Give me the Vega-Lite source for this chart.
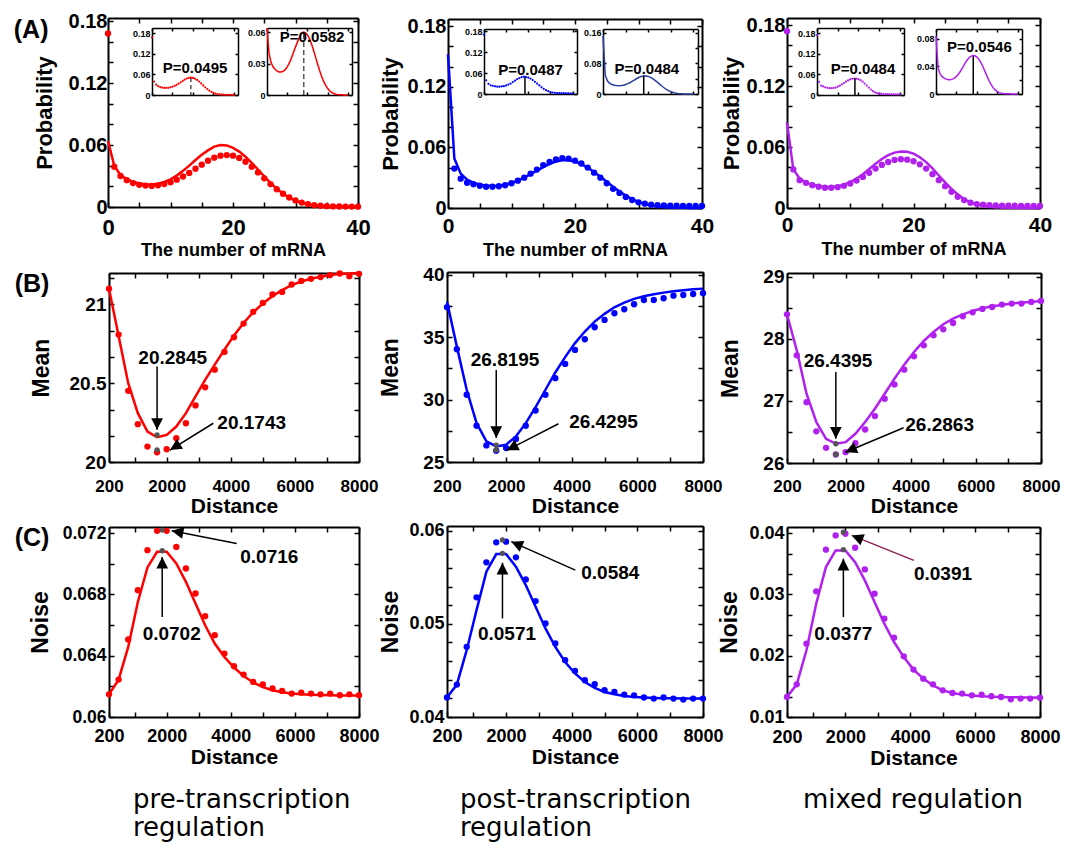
{
"$schema":"https://vega.github.io/schema/vega-lite/v6.json",
"width":1065,"height":844,"autosize":{"type":"none"},"padding":0,"background":"white",
"datasets":{
"dist":[
{"reg":"pre","n":0,"p":0.168,"t":0.064},{"reg":"pre","n":1,"p":0.039,"t":0.040},{"reg":"pre","n":2,"p":0.030,"t":0.031},{"reg":"pre","n":3,"p":0.026,"t":0.027},{"reg":"pre","n":4,"p":0.0232,"t":0.0245},{"reg":"pre","n":5,"p":0.0215,"t":0.0228},{"reg":"pre","n":6,"p":0.0207,"t":0.022},{"reg":"pre","n":7,"p":0.0204,"t":0.0219},{"reg":"pre","n":8,"p":0.021,"t":0.0226},{"reg":"pre","n":9,"p":0.0222,"t":0.0242},{"reg":"pre","n":10,"p":0.024,"t":0.0268},{"reg":"pre","n":11,"p":0.0265,"t":0.0304},{"reg":"pre","n":12,"p":0.0295,"t":0.035},{"reg":"pre","n":13,"p":0.033,"t":0.0401},{"reg":"pre","n":14,"p":0.037,"t":0.0455},{"reg":"pre","n":15,"p":0.041,"t":0.0505},{"reg":"pre","n":16,"p":0.0448,"t":0.0548},{"reg":"pre","n":17,"p":0.0478,"t":0.0585},{"reg":"pre","n":18,"p":0.0497,"t":0.0601},{"reg":"pre","n":19,"p":0.0503,"t":0.0596},{"reg":"pre","n":20,"p":0.0497,"t":0.0573},{"reg":"pre","n":21,"p":0.0475,"t":0.0536},{"reg":"pre","n":22,"p":0.0438,"t":0.0487},{"reg":"pre","n":23,"p":0.039,"t":0.0428},{"reg":"pre","n":24,"p":0.0335,"t":0.0362},{"reg":"pre","n":25,"p":0.0278,"t":0.0296},{"reg":"pre","n":26,"p":0.0222,"t":0.0234},{"reg":"pre","n":27,"p":0.0172,"t":0.0177},{"reg":"pre","n":28,"p":0.0128,"t":0.013},{"reg":"pre","n":29,"p":0.0092,"t":0.0091},{"reg":"pre","n":30,"p":0.0064,"t":0.0061},{"reg":"pre","n":31,"p":0.0043,"t":0.0039},{"reg":"pre","n":32,"p":0.0028,"t":0.0024},{"reg":"pre","n":33,"p":0.0018,"t":0.0014},{"reg":"pre","n":34,"p":0.0012,"t":0.0008},{"reg":"pre","n":35,"p":0.0008,"t":0.0005},{"reg":"pre","n":36,"p":0.0006,"t":0.0003},{"reg":"pre","n":37,"p":0.0005,"t":0.0002},{"reg":"pre","n":38,"p":0.0004,"t":0.0001},{"reg":"pre","n":39,"p":0.0004,"t":0.0001},{"reg":"pre","n":40,"p":0.0003,"t":0.0},
{"reg":"post","n":0,"p":0.17,"t":0.152},{"reg":"post","n":1,"p":0.039,"t":0.049},{"reg":"post","n":2,"p":0.029,"t":0.034},{"reg":"post","n":3,"p":0.025,"t":0.028},{"reg":"post","n":4,"p":0.0235,"t":0.025},{"reg":"post","n":5,"p":0.022,"t":0.023},{"reg":"post","n":6,"p":0.021,"t":0.0222},{"reg":"post","n":7,"p":0.021,"t":0.0218},{"reg":"post","n":8,"p":0.0215,"t":0.022},{"reg":"post","n":9,"p":0.0225,"t":0.023},{"reg":"post","n":10,"p":0.0245,"t":0.0248},{"reg":"post","n":11,"p":0.027,"t":0.027},{"reg":"post","n":12,"p":0.030,"t":0.030},{"reg":"post","n":13,"p":0.034,"t":0.0335},{"reg":"post","n":14,"p":0.038,"t":0.037},{"reg":"post","n":15,"p":0.0425,"t":0.0405},{"reg":"post","n":16,"p":0.0455,"t":0.0437},{"reg":"post","n":17,"p":0.048,"t":0.046},{"reg":"post","n":18,"p":0.0494,"t":0.0472},{"reg":"post","n":19,"p":0.0488,"t":0.0472},{"reg":"post","n":20,"p":0.0468,"t":0.046},{"reg":"post","n":21,"p":0.044,"t":0.0435},{"reg":"post","n":22,"p":0.040,"t":0.040},{"reg":"post","n":23,"p":0.035,"t":0.0357},{"reg":"post","n":24,"p":0.030,"t":0.031},{"reg":"post","n":25,"p":0.0245,"t":0.026},{"reg":"post","n":26,"p":0.019,"t":0.021},{"reg":"post","n":27,"p":0.0149,"t":0.0163},{"reg":"post","n":28,"p":0.011,"t":0.0122},{"reg":"post","n":29,"p":0.0079,"t":0.0088},{"reg":"post","n":30,"p":0.0056,"t":0.006},{"reg":"post","n":31,"p":0.0043,"t":0.0039},{"reg":"post","n":32,"p":0.0033,"t":0.0025},{"reg":"post","n":33,"p":0.0028,"t":0.0015},{"reg":"post","n":34,"p":0.0025,"t":0.0009},{"reg":"post","n":35,"p":0.0023,"t":0.0005},{"reg":"post","n":36,"p":0.0022,"t":0.0003},{"reg":"post","n":37,"p":0.0021,"t":0.0002},{"reg":"post","n":38,"p":0.002,"t":0.0001},{"reg":"post","n":39,"p":0.002,"t":0.0001},{"reg":"post","n":40,"p":0.002,"t":0.0},
{"reg":"mixed","n":0,"p":0.174,"t":0.084},{"reg":"mixed","n":1,"p":0.038,"t":0.038},{"reg":"mixed","n":2,"p":0.0274,"t":0.029},{"reg":"mixed","n":3,"p":0.0248,"t":0.025},{"reg":"mixed","n":4,"p":0.0225,"t":0.023},{"reg":"mixed","n":5,"p":0.0209,"t":0.0215},{"reg":"mixed","n":6,"p":0.0199,"t":0.0207},{"reg":"mixed","n":7,"p":0.0199,"t":0.0207},{"reg":"mixed","n":8,"p":0.0205,"t":0.0215},{"reg":"mixed","n":9,"p":0.0218,"t":0.023},{"reg":"mixed","n":10,"p":0.0241,"t":0.0255},{"reg":"mixed","n":11,"p":0.027,"t":0.029},{"reg":"mixed","n":12,"p":0.0306,"t":0.0333},{"reg":"mixed","n":13,"p":0.0346,"t":0.0383},{"reg":"mixed","n":14,"p":0.0388,"t":0.0435},{"reg":"mixed","n":15,"p":0.0424,"t":0.0482},{"reg":"mixed","n":16,"p":0.0453,"t":0.052},{"reg":"mixed","n":17,"p":0.0473,"t":0.0545},{"reg":"mixed","n":18,"p":0.048,"t":0.0555},{"reg":"mixed","n":19,"p":0.0476,"t":0.0553},{"reg":"mixed","n":20,"p":0.046,"t":0.0535},{"reg":"mixed","n":21,"p":0.043,"t":0.05},{"reg":"mixed","n":22,"p":0.0388,"t":0.0452},{"reg":"mixed","n":23,"p":0.0333,"t":0.039},{"reg":"mixed","n":24,"p":0.0274,"t":0.032},{"reg":"mixed","n":25,"p":0.0215,"t":0.0252},{"reg":"mixed","n":26,"p":0.016,"t":0.0188},{"reg":"mixed","n":27,"p":0.0111,"t":0.0133},{"reg":"mixed","n":28,"p":0.0078,"t":0.0088},{"reg":"mixed","n":29,"p":0.0052,"t":0.0055},{"reg":"mixed","n":30,"p":0.0039,"t":0.0033},{"reg":"mixed","n":31,"p":0.0033,"t":0.002},{"reg":"mixed","n":32,"p":0.0028,"t":0.0012},{"reg":"mixed","n":33,"p":0.0026,"t":0.0007},{"reg":"mixed","n":34,"p":0.0024,"t":0.0004},{"reg":"mixed","n":35,"p":0.0023,"t":0.0003},{"reg":"mixed","n":36,"p":0.0022,"t":0.0002},{"reg":"mixed","n":37,"p":0.0021,"t":0.0001},{"reg":"mixed","n":38,"p":0.002,"t":0.0001},{"reg":"mixed","n":39,"p":0.002,"t":0.0},{"reg":"mixed","n":40,"p":0.002,"t":0.0}
],
"curve":[
{"reg":"pre","d":200,"ms":21.10,"mt":21.10,"ns":0.06148,"nt":0.06148},{"reg":"pre","d":500,"ms":20.809,"mt":20.80,"ns":0.06244,"nt":0.06244},{"reg":"pre","d":800,"ms":20.452,"mt":20.50,"ns":0.06506,"nt":0.06457},{"reg":"pre","d":1100,"ms":20.24,"mt":20.31,"ns":0.06828,"nt":0.06751},{"reg":"pre","d":1400,"ms":20.098,"mt":20.193,"ns":0.07089,"nt":0.06976},{"reg":"pre","d":1700,"ms":20.062,"mt":20.157,"ns":0.07215,"nt":0.07078},{"reg":"pre","d":2000,"ms":20.081,"mt":20.172,"ns":0.07215,"nt":0.07078},{"reg":"pre","d":2300,"ms":20.151,"mt":20.225,"ns":0.0711,"nt":0.07002},{"reg":"pre","d":2600,"ms":20.246,"mt":20.31,"ns":0.06969,"nt":0.06882},{"reg":"pre","d":2900,"ms":20.359,"mt":20.416,"ns":0.06806,"nt":0.06741},{"reg":"pre","d":3200,"ms":20.474,"mt":20.522,"ns":0.06658,"nt":0.06599},{"reg":"pre","d":3500,"ms":20.586,"mt":20.618,"ns":0.06534,"nt":0.06479},{"reg":"pre","d":3800,"ms":20.699,"mt":20.713,"ns":0.06414,"nt":0.06392},{"reg":"pre","d":4100,"ms":20.792,"mt":20.803,"ns":0.06331,"nt":0.06323},{"reg":"pre","d":4400,"ms":20.879,"mt":20.883,"ns":0.06277,"nt":0.06268},{"reg":"pre","d":4700,"ms":20.953,"mt":20.951,"ns":0.06229,"nt":0.06225},{"reg":"pre","d":5000,"ms":21.01,"mt":21.006,"ns":0.06212,"nt":0.06196},{"reg":"pre","d":5300,"ms":21.064,"mt":21.053,"ns":0.06186,"nt":0.06174},{"reg":"pre","d":5600,"ms":21.08,"mt":21.091,"ns":0.0617,"nt":0.06161},{"reg":"pre","d":5900,"ms":21.127,"mt":21.123,"ns":0.06153,"nt":0.06153},{"reg":"pre","d":6200,"ms":21.15,"mt":21.146,"ns":0.06159,"nt":0.06148},{"reg":"pre","d":6500,"ms":21.163,"mt":21.163,"ns":0.06153,"nt":0.06146},{"reg":"pre","d":6800,"ms":21.174,"mt":21.176,"ns":0.06148,"nt":0.06144},{"reg":"pre","d":7100,"ms":21.187,"mt":21.187,"ns":0.06153,"nt":0.06142},{"reg":"pre","d":7400,"ms":21.197,"mt":21.193,"ns":0.06142,"nt":0.06141},{"reg":"pre","d":7700,"ms":21.18,"mt":21.197,"ns":0.06148,"nt":0.0614},{"reg":"pre","d":8000,"ms":21.195,"mt":21.2,"ns":0.06142,"nt":0.0614},
{"reg":"post","d":200,"ms":37.38,"mt":37.83,"ns":0.04209,"nt":0.04209},{"reg":"post","d":500,"ms":34.02,"mt":34.23,"ns":0.04348,"nt":0.04348},{"reg":"post","d":800,"ms":30.38,"mt":30.78,"ns":0.04753,"nt":0.04717},{"reg":"post","d":1100,"ms":27.9,"mt":28.11,"ns":0.05284,"nt":0.05147},{"reg":"post","d":1400,"ms":26.33,"mt":26.65,"ns":0.0566,"nt":0.05559},{"reg":"post","d":1700,"ms":25.9,"mt":26.25,"ns":0.05875,"nt":0.05749},{"reg":"post","d":2000,"ms":26.12,"mt":26.38,"ns":0.05882,"nt":0.05749},{"reg":"post","d":2300,"ms":26.84,"mt":27.05,"ns":0.05714,"nt":0.05613},{"reg":"post","d":2600,"ms":27.9,"mt":28.11,"ns":0.05477,"nt":0.05416},{"reg":"post","d":2900,"ms":29.12,"mt":29.39,"ns":0.05244,"nt":0.05183},{"reg":"post","d":3200,"ms":30.38,"mt":30.78,"ns":0.05004,"nt":0.04951},{"reg":"post","d":3500,"ms":31.71,"mt":32.16,"ns":0.04789,"nt":0.04753},{"reg":"post","d":3800,"ms":32.85,"mt":33.39,"ns":0.0461,"nt":0.04591},{"reg":"post","d":4100,"ms":33.97,"mt":34.51,"ns":0.04495,"nt":0.04467},{"reg":"post","d":4400,"ms":34.82,"mt":35.44,"ns":0.04395,"nt":0.04376},{"reg":"post","d":4700,"ms":35.78,"mt":36.23,"ns":0.04352,"nt":0.04312},{"reg":"post","d":5000,"ms":36.37,"mt":36.85,"ns":0.04287,"nt":0.04269},{"reg":"post","d":5300,"ms":36.9,"mt":37.38,"ns":0.04269,"nt":0.04244},{"reg":"post","d":5600,"ms":37.22,"mt":37.75,"ns":0.04241,"nt":0.04226},{"reg":"post","d":5900,"ms":37.62,"mt":38.05,"ns":0.04233,"nt":0.04215},{"reg":"post","d":6200,"ms":37.96,"mt":38.26,"ns":0.04209,"nt":0.04209},{"reg":"post","d":6500,"ms":37.96,"mt":38.42,"ns":0.04198,"nt":0.04205},{"reg":"post","d":6800,"ms":38.1,"mt":38.55,"ns":0.04209,"nt":0.04202},{"reg":"post","d":7100,"ms":38.31,"mt":38.66,"ns":0.04198,"nt":0.042},{"reg":"post","d":7400,"ms":38.36,"mt":38.74,"ns":0.04187,"nt":0.04198},{"reg":"post","d":7700,"ms":38.44,"mt":38.82,"ns":0.04198,"nt":0.04198},{"reg":"post","d":8000,"ms":38.5,"mt":38.87,"ns":0.04198,"nt":0.04198},
{"reg":"mixed","d":200,"ms":28.395,"mt":28.395,"ns":0.01326,"nt":0.01326},{"reg":"mixed","d":500,"ms":27.734,"mt":27.815,"ns":0.01533,"nt":0.01533},{"reg":"mixed","d":800,"ms":26.98,"mt":27.116,"ns":0.02197,"nt":0.02088},{"reg":"mixed","d":1100,"ms":26.51,"mt":26.66,"ns":0.0305,"nt":0.02849},{"reg":"mixed","d":1400,"ms":26.245,"mt":26.39,"ns":0.0373,"nt":0.03446},{"reg":"mixed","d":1700,"ms":26.137,"mt":26.31,"ns":0.03963,"nt":0.03718},{"reg":"mixed","d":2000,"ms":26.175,"mt":26.336,"ns":0.0399,"nt":0.03718},{"reg":"mixed","d":2300,"ms":26.32,"mt":26.47,"ns":0.03762,"nt":0.03527},{"reg":"mixed","d":2600,"ms":26.54,"mt":26.66,"ns":0.03408,"nt":0.03229},{"reg":"mixed","d":2900,"ms":26.755,"mt":26.874,"ns":0.03012,"nt":0.02875},{"reg":"mixed","d":3200,"ms":27.035,"mt":27.116,"ns":0.02604,"nt":0.02523},{"reg":"mixed","d":3500,"ms":27.266,"mt":27.358,"ns":0.02295,"nt":0.02223},{"reg":"mixed","d":3800,"ms":27.503,"mt":27.584,"ns":0.0199,"nt":0.01978},{"reg":"mixed","d":4100,"ms":27.718,"mt":27.787,"ns":0.01773,"nt":0.01773},{"reg":"mixed","d":4400,"ms":27.895,"mt":27.965,"ns":0.01626,"nt":0.01626},{"reg":"mixed","d":4700,"ms":28.056,"mt":28.11,"ns":0.01533,"nt":0.01517},{"reg":"mixed","d":5000,"ms":28.153,"mt":28.234,"ns":0.01435,"nt":0.01435},{"reg":"mixed","d":5300,"ms":28.255,"mt":28.325,"ns":0.01391,"nt":0.01391},{"reg":"mixed","d":5600,"ms":28.363,"mt":28.395,"ns":0.01382,"nt":0.01365},{"reg":"mixed","d":5900,"ms":28.427,"mt":28.449,"ns":0.01354,"nt":0.01349},{"reg":"mixed","d":6200,"ms":28.481,"mt":28.492,"ns":0.01365,"nt":0.01338},{"reg":"mixed","d":6500,"ms":28.513,"mt":28.524,"ns":0.01338,"nt":0.01332},{"reg":"mixed","d":6800,"ms":28.551,"mt":28.545,"ns":0.01326,"nt":0.01326},{"reg":"mixed","d":7100,"ms":28.568,"mt":28.568,"ns":0.01289,"nt":0.01322},{"reg":"mixed","d":7400,"ms":28.568,"mt":28.584,"ns":0.013,"nt":0.0132},{"reg":"mixed","d":7700,"ms":28.594,"mt":28.594,"ns":0.013,"nt":0.01318},{"reg":"mixed","d":8000,"ms":28.61,"mt":28.61,"ns":0.01316,"nt":0.01316}
],
"mk":[
{"id":"B1","x":1700,"y":20.172},{"id":"B1","x":1700,"y":20.077},
{"id":"B2","x":1700,"y":26.35},{"id":"B2","x":1700,"y":25.95},
{"id":"B3","x":1700,"y":26.31},{"id":"B3","x":1700,"y":26.137},
{"id":"C1","x":1860,"y":0.07085},{"id":"C1","x":1860,"y":0.0722},
{"id":"C2","x":1890,"y":0.05757},{"id":"C2","x":1890,"y":0.059},
{"id":"C3","x":1938,"y":0.0373},{"id":"C3","x":1938,"y":0.04016}
],
"peak":[
{"id":"A1a","x":19,"p":0.0495},{"id":"A1b","x":18.2,"p":0.0582},{"id":"A2a","x":18.5,"p":0.0487},{"id":"A2b","x":18,"p":0.0484},{"id":"A3a","x":18.3,"p":0.0484},{"id":"A3b","x":18.2,"p":0.0546}
],
"arrow":[
{"id":"B1","k":"v","x":1700,"y":20.607,"x2":1700,"y2":20.204},
{"id":"B1","k":"d","x":3455,"y":20.246,"x2":2103,"y2":20.076},
{"id":"B2","k":"v","x":1700,"y":32.36,"x2":1700,"y2":26.92},
{"id":"B2","k":"d","x":3596,"y":28.06,"x2":2021,"y2":25.93},
{"id":"B3","k":"v","x":1700,"y":27.465,"x2":1700,"y2":26.39},
{"id":"B3","k":"d","x":3781,"y":26.568,"x2":1990,"y2":26.174},
{"id":"C1","k":"v","x":1860,"y":0.06653,"x2":1860,"y2":0.07045},
{"id":"C1","k":"d","x":4184,"y":0.07133,"x2":2156,"y2":0.07215},
{"id":"C2","k":"v","x":1890,"y":0.05058,"x2":1890,"y2":0.05656},
{"id":"C2","k":"d","x":4109,"y":0.05577,"x2":2159,"y2":0.05882},
{"id":"C3","k":"v","x":1938,"y":0.0263,"x2":1938,"y2":0.03583},
{"id":"C3","k":"d","x":4110,"y":0.03555,"x2":2196,"y2":0.03963}
],
"note":[
{"id":"A1","k":"lab","x":-12.3,"y":0.1713,"s":"(A)"},
{"id":"B1","k":"lab","x":-2202,"y":21.127,"s":"(B)"},
{"id":"C1","k":"lab","x":-2202,"y":0.07167,"s":"(C)"},
{"id":"B1","k":"ann","x":2187,"y":20.66,"s":"20.2845"},{"id":"B1","k":"ann","x":4652,"y":20.246,"s":"20.1743"},
{"id":"B2","k":"ann","x":1969,"y":33.17,"s":"26.8195"},{"id":"B2","k":"ann","x":4968,"y":28.24,"s":"26.4295"},
{"id":"B3","k":"ann","x":1766,"y":27.65,"s":"26.4395"},{"id":"B3","k":"ann","x":4887,"y":26.62,"s":"26.2863"},
{"id":"C1","k":"ann","x":5202,"y":0.07045,"s":"0.0716"},{"id":"C1","k":"ann","x":2156,"y":0.0654,"s":"0.0702"},
{"id":"C2","k":"ann","x":5176,"y":0.05542,"s":"0.0584"},{"id":"C2","k":"ann","x":2028,"y":0.04889,"s":"0.0571"},
{"id":"C3","k":"ann","x":5010,"y":0.03338,"s":"0.0391"},{"id":"C3","k":"ann","x":1938,"y":0.02348,"s":"0.0377"},
{"id":"A1a","k":"P","x":21,"y":0.079,"s":"P=0.0495"},{"id":"A1b","k":"P","x":22.3,"y":0.055,"s":"P=0.0582"},
{"id":"A2a","k":"P","x":21,"y":0.0695,"s":"P=0.0487"},{"id":"A2b","k":"P","x":19.4,"y":0.065,"s":"P=0.0484"},
{"id":"A3a","k":"P","x":22.2,"y":0.075,"s":"P=0.0484"},{"id":"A3b","k":"P","x":21.2,"y":0.0673,"s":"P=0.0546"},
{"id":"C1","k":"bot","x":949,"y":0.05406,"s":"pre-transcription\nregulation"},
{"id":"C2","k":"bot","x":596,"y":0.03023,"s":"post-transcription\nregulation"},
{"id":"C3","k":"bot","x":691,"y":-0.00485,"s":"mixed regulation"}
]
},
"layer":[
{"layer":[
 {"data":{"name":"dist"},"transform":[{"filter":"datum.reg=='pre'"}],"mark":{"type":"line","color":"#ff0000","strokeWidth":2.5},
  "encoding":{"x":{"field":"n","type":"quantitative","scale":{"domain":[0,40],"range":[108,358],"nice":false,"zero":false},"axis":{"orient":"bottom","offset":-637,"values":[0,5,10,15,20,25,30,35,40],"labelExpr":"indexof([0,20,40],datum.value)>=0?format(datum.value,'~g'):''","labelFontSize":22,"labelPadding":15,"title":"The number of mRNA","titleFontSize":18,"titlePadding":3}},
   "y":{"field":"t","type":"quantitative","scale":{"domain":[0,0.183],"range":[207,18],"nice":false,"zero":false},"axis":{"orient":"left","offset":-108,"values":[0,0.02,0.04,0.06,0.08,0.1,0.12,0.14,0.16,0.18],"labelExpr":"indexof([0,0.06,0.12,0.18],datum.value)>=0?format(datum.value,'~g'):''","labelFontSize":20,"labelPadding":6,"title":"Probability","titleFontSize":22,"titlePadding":12}}}},
 {"data":{"name":"dist"},"transform":[{"filter":"datum.reg=='pre'"}],"mark":{"type":"circle","color":"#ff0000","size":40,"opacity":1},
  "encoding":{"x":{"field":"n","type":"quantitative","axis":{"orient":"top","offset":-18,"values":[0,5,10,15,20,25,30,35,40],"labels":false,"title":null}},
   "y":{"field":"p","type":"quantitative","axis":{"orient":"right","offset":-707,"values":[0,0.02,0.04,0.06,0.08,0.1,0.12,0.14,0.16,0.18],"labels":false,"title":null}}}},
 {"data":{"name":"note"},"transform":[{"filter":"datum.id=='A1' && datum.k=='lab'"}],"mark":{"type":"text","fontSize":25,"fontWeight":"bold"},
  "encoding":{"x":{"field":"x","type":"quantitative","axis":null},"y":{"field":"y","type":"quantitative","axis":null},"text":{"field":"s"}}}
],"resolve":{"axis":{"x":"independent","y":"independent"}}},
{"layer":[
 {"data":{"name":"dist"},"transform":[{"filter":"datum.reg=='post'"}],"mark":{"type":"line","color":"#0000ff","strokeWidth":2.5},
  "encoding":{"x":{"field":"n","type":"quantitative","scale":{"domain":[0,40],"range":[448,702],"nice":false,"zero":false},"axis":{"orient":"bottom","offset":-636,"values":[0,5,10,15,20,25,30,35,40],"labelExpr":"indexof([0,20,40],datum.value)>=0?format(datum.value,'~g'):''","labelFontSize":21,"labelPadding":12,"title":"The number of mRNA","titleFontSize":18,"titlePadding":5}},
   "y":{"field":"t","type":"quantitative","scale":{"domain":[0,0.187],"range":[208,19],"nice":false,"zero":false},"axis":{"orient":"left","offset":-448,"values":[0,0.02,0.04,0.06,0.08,0.1,0.12,0.14,0.16,0.18],"labelExpr":"indexof([0,0.06,0.12,0.18],datum.value)>=0?format(datum.value,'~g'):''","labelFontSize":20,"labelPadding":7,"title":"Probability","titleFontSize":22,"titlePadding":5}}}},
 {"data":{"name":"dist"},"transform":[{"filter":"datum.reg=='post' && datum.n>0"}],"mark":{"type":"circle","color":"#0000ff","size":40,"opacity":1},
  "encoding":{"x":{"field":"n","type":"quantitative","axis":{"orient":"top","offset":-19,"values":[0,5,10,15,20,25,30,35,40],"labels":false,"title":null}},
   "y":{"field":"p","type":"quantitative","axis":{"orient":"right","offset":-363,"values":[0,0.02,0.04,0.06,0.08,0.1,0.12,0.14,0.16,0.18],"labels":false,"title":null}}}}
],"resolve":{"axis":{"x":"independent","y":"independent"}}},
{"layer":[
 {"data":{"name":"dist"},"transform":[{"filter":"datum.reg=='mixed'"}],"mark":{"type":"line","color":"#b020ee","strokeWidth":2.5},
  "encoding":{"x":{"field":"n","type":"quantitative","scale":{"domain":[0,40],"range":[787,1040],"nice":false,"zero":false},"axis":{"orient":"bottom","offset":-636,"values":[0,5,10,15,20,25,30,35,40],"labelExpr":"indexof([0,20,40],datum.value)>=0?format(datum.value,'~g'):''","labelFontSize":21,"labelPadding":11,"title":"The number of mRNA","titleFontSize":18,"titlePadding":5}},
   "y":{"field":"t","type":"quantitative","scale":{"domain":[0,0.187],"range":[208,18],"nice":false,"zero":false},"axis":{"orient":"left","offset":-787,"values":[0,0.02,0.04,0.06,0.08,0.1,0.12,0.14,0.16,0.18],"labelExpr":"indexof([0,0.06,0.12,0.18],datum.value)>=0?format(datum.value,'~g'):''","labelFontSize":20,"labelPadding":7,"title":"Probability","titleFontSize":22,"titlePadding":3}}}},
 {"data":{"name":"dist"},"transform":[{"filter":"datum.reg=='mixed'"}],"mark":{"type":"circle","color":"#b020ee","size":40,"opacity":1},
  "encoding":{"x":{"field":"n","type":"quantitative","axis":{"orient":"top","offset":-18,"values":[0,5,10,15,20,25,30,35,40],"labels":false,"title":null}},
   "y":{"field":"p","type":"quantitative","axis":{"orient":"right","offset":-25,"values":[0,0.02,0.04,0.06,0.08,0.1,0.12,0.14,0.16,0.18],"labels":false,"title":null}}}}
],"resolve":{"axis":{"x":"independent","y":"independent"}}},
{"layer":[
 {"data":{"name":"dist"},"transform":[{"filter":"datum.reg=='pre'"}],"mark":{"type":"circle","color":"#ff0000","size":5,"opacity":1},
  "encoding":{"x":{"field":"n","type":"quantitative","scale":{"domain":[0,42],"range":[152,238],"nice":false,"zero":false},"axis":{"orient":"bottom","offset":-749,"values":[0,10,20,30,40],"labels":false,"title":null,"tickSize":-3,"domainWidth":1.5}},
   "y":{"field":"p","type":"quantitative","scale":{"domain":[0,0.195],"range":[95,28],"nice":false,"zero":false},"axis":{"orient":"left","offset":-152,"values":[0,0.06,0.12,0.18],"labelExpr":"format(datum.value,'~g')","labelFontSize":9,"labelPadding":5,"tickSize":-3,"domainWidth":1.5,"title":null}}}},
 {"data":{"name":"note"},"transform":[{"filter":"datum.id=='A1a'"}],"mark":{"type":"text","fontSize":15,"fontWeight":"bold"},
  "encoding":{"x":{"field":"x","type":"quantitative","axis":{"orient":"top","offset":-28,"values":[0,10,20,30,40],"labels":false,"title":null,"tickSize":-3,"domainWidth":1.5}},
   "y":{"field":"y","type":"quantitative","axis":{"orient":"right","offset":-827,"values":[0,0.06,0.12,0.18],"labels":false,"title":null,"tickSize":-3,"domainWidth":1.5}},"text":{"field":"s"}}},
 {"data":{"name":"peak"},"transform":[{"filter":"datum.id=='A1a'"}],"mark":{"type":"rule","color":"#000000","strokeWidth":1,"strokeDash":[4,3]},
  "encoding":{"x":{"field":"x","type":"quantitative","axis":null},"y":{"field":"p","type":"quantitative","axis":null},"y2":{"datum":0}}}
],"resolve":{"axis":{"x":"independent","y":"independent"}}},
{"layer":[
 {"data":{"name":"dist"},"transform":[{"filter":"datum.reg=='pre'"}],"mark":{"type":"line","color":"#ff0000","strokeWidth":1.5},
  "encoding":{"x":{"field":"n","type":"quantitative","scale":{"domain":[0,42],"range":[267,352],"nice":false,"zero":false},"axis":{"orient":"bottom","offset":-749,"values":[0,10,20,30,40],"labels":false,"title":null,"tickSize":-3,"domainWidth":1.5}},
   "y":{"field":"t","type":"quantitative","scale":{"domain":[0,0.064],"range":[95,28],"nice":false,"zero":false},"axis":{"orient":"left","offset":-267,"values":[0,0.03,0.06],"labelExpr":"format(datum.value,'~g')","labelFontSize":9,"labelPadding":5,"tickSize":-3,"domainWidth":1.5,"title":null}}}},
 {"data":{"name":"note"},"transform":[{"filter":"datum.id=='A1b'"}],"mark":{"type":"text","fontSize":15,"fontWeight":"bold"},
  "encoding":{"x":{"field":"x","type":"quantitative","axis":{"orient":"top","offset":-28,"values":[0,10,20,30,40],"labels":false,"title":null,"tickSize":-3,"domainWidth":1.5}},
   "y":{"field":"y","type":"quantitative","axis":{"orient":"right","offset":-713,"values":[0,0.03,0.06],"labels":false,"title":null,"tickSize":-3,"domainWidth":1.5}},"text":{"field":"s"}}},
 {"data":{"name":"peak"},"transform":[{"filter":"datum.id=='A1b'"}],"mark":{"type":"rule","color":"#000000","strokeWidth":1,"strokeDash":[5,3]},
  "encoding":{"x":{"field":"x","type":"quantitative","axis":null},"y":{"field":"p","type":"quantitative","axis":null},"y2":{"datum":0}}}
],"resolve":{"axis":{"x":"independent","y":"independent"}}},
{"layer":[
 {"data":{"name":"dist"},"transform":[{"filter":"datum.reg=='post'"}],"mark":{"type":"circle","color":"#0000ff","size":5,"opacity":1},
  "encoding":{"x":{"field":"n","type":"quantitative","scale":{"domain":[0,42],"range":[484,577],"nice":false,"zero":false},"axis":{"orient":"bottom","offset":-750,"values":[0,10,20,30,40],"labels":false,"title":null,"tickSize":-3,"domainWidth":1.5}},
   "y":{"field":"p","type":"quantitative","scale":{"domain":[0,0.186],"range":[94,29],"nice":false,"zero":false},"axis":{"orient":"left","offset":-484,"values":[0,0.06,0.12,0.18],"labelExpr":"format(datum.value,'~g')","labelFontSize":9,"labelPadding":5,"tickSize":-3,"domainWidth":1.5,"title":null}}}},
 {"data":{"name":"note"},"transform":[{"filter":"datum.id=='A2a'"}],"mark":{"type":"text","fontSize":15,"fontWeight":"bold"},
  "encoding":{"x":{"field":"x","type":"quantitative","axis":{"orient":"top","offset":-29,"values":[0,10,20,30,40],"labels":false,"title":null,"tickSize":-3,"domainWidth":1.5}},
   "y":{"field":"y","type":"quantitative","axis":{"orient":"right","offset":-488,"values":[0,0.06,0.12,0.18],"labels":false,"title":null,"tickSize":-3,"domainWidth":1.5}},"text":{"field":"s"}}},
 {"data":{"name":"peak"},"transform":[{"filter":"datum.id=='A2a'"}],"mark":{"type":"rule","color":"#000000","strokeWidth":1.5},
  "encoding":{"x":{"field":"x","type":"quantitative","axis":null},"y":{"field":"p","type":"quantitative","axis":null},"y2":{"datum":0}}}
],"resolve":{"axis":{"x":"independent","y":"independent"}}},
{"layer":[
 {"data":{"name":"dist"},"transform":[{"filter":"datum.reg=='post'"}],"mark":{"type":"line","color":"#2a3f9d","strokeWidth":1.5},
  "encoding":{"x":{"field":"n","type":"quantitative","scale":{"domain":[0,42],"range":[603,698],"nice":false,"zero":false},"axis":{"orient":"bottom","offset":-750,"values":[0,10,20,30,40],"labels":false,"title":null,"tickSize":-3,"domainWidth":1.5}},
   "y":{"field":"t","type":"quantitative","scale":{"domain":[0,0.17],"range":[94,29],"nice":false,"zero":false},"axis":{"orient":"left","offset":-603,"values":[0,0.08,0.16],"labelExpr":"format(datum.value,'~g')","labelFontSize":9,"labelPadding":5,"tickSize":-3,"domainWidth":1.5,"title":null}}}},
 {"data":{"name":"note"},"transform":[{"filter":"datum.id=='A2b'"}],"mark":{"type":"text","fontSize":15,"fontWeight":"bold"},
  "encoding":{"x":{"field":"x","type":"quantitative","axis":{"orient":"top","offset":-29,"values":[0,10,20,30,40],"labels":false,"title":null,"tickSize":-3,"domainWidth":1.5}},
   "y":{"field":"y","type":"quantitative","axis":{"orient":"right","offset":-367,"values":[0,0.04,0.08,0.12,0.16],"labels":false,"title":null,"tickSize":-3,"domainWidth":1.5}},"text":{"field":"s"}}},
 {"data":{"name":"peak"},"transform":[{"filter":"datum.id=='A2b'"}],"mark":{"type":"rule","color":"#000000","strokeWidth":1.5},
  "encoding":{"x":{"field":"x","type":"quantitative","axis":null},"y":{"field":"p","type":"quantitative","axis":null},"y2":{"datum":0}}}
],"resolve":{"axis":{"x":"independent","y":"independent"}}},
{"layer":[
 {"data":{"name":"dist"},"transform":[{"filter":"datum.reg=='mixed'"}],"mark":{"type":"circle","color":"#b020ee","size":5,"opacity":1},
  "encoding":{"x":{"field":"n","type":"quantitative","scale":{"domain":[0,42],"range":[817,904],"nice":false,"zero":false},"axis":{"orient":"bottom","offset":-749,"values":[0,10,20,30,40],"labels":false,"title":null,"tickSize":-3,"domainWidth":1.5}},
   "y":{"field":"p","type":"quantitative","scale":{"domain":[0,0.195],"range":[95,28],"nice":false,"zero":false},"axis":{"orient":"left","offset":-817,"values":[0,0.06,0.12,0.18],"labelExpr":"format(datum.value,'~g')","labelFontSize":9,"labelPadding":5,"tickSize":-3,"domainWidth":1.5,"title":null}}}},
 {"data":{"name":"note"},"transform":[{"filter":"datum.id=='A3a'"}],"mark":{"type":"text","fontSize":15,"fontWeight":"bold"},
  "encoding":{"x":{"field":"x","type":"quantitative","axis":{"orient":"top","offset":-28,"values":[0,10,20,30,40],"labels":false,"title":null,"tickSize":-3,"domainWidth":1.5}},
   "y":{"field":"y","type":"quantitative","axis":{"orient":"right","offset":-161,"values":[0,0.06,0.12,0.18],"labels":false,"title":null,"tickSize":-3,"domainWidth":1.5}},"text":{"field":"s"}}},
 {"data":{"name":"peak"},"transform":[{"filter":"datum.id=='A3a'"}],"mark":{"type":"rule","color":"#000000","strokeWidth":1.5},
  "encoding":{"x":{"field":"x","type":"quantitative","axis":null},"y":{"field":"p","type":"quantitative","axis":null},"y2":{"datum":0}}}
],"resolve":{"axis":{"x":"independent","y":"independent"}}},
{"layer":[
 {"data":{"name":"dist"},"transform":[{"filter":"datum.reg=='mixed'"}],"mark":{"type":"line","color":"#b020ee","strokeWidth":1.5},
  "encoding":{"x":{"field":"n","type":"quantitative","scale":{"domain":[0,42],"range":[936,1022],"nice":false,"zero":false},"axis":{"orient":"bottom","offset":-750,"values":[0,10,20,30,40],"labels":false,"title":null,"tickSize":-3,"domainWidth":1.5}},
   "y":{"field":"t","type":"quantitative","scale":{"domain":[0,0.094],"range":[94,29],"nice":false,"zero":false},"axis":{"orient":"left","offset":-936,"values":[0,0.04,0.08],"labelExpr":"format(datum.value,'~g')","labelFontSize":9,"labelPadding":5,"tickSize":-3,"domainWidth":1.5,"title":null}}}},
 {"data":{"name":"note"},"transform":[{"filter":"datum.id=='A3b'"}],"mark":{"type":"text","fontSize":15,"fontWeight":"bold"},
  "encoding":{"x":{"field":"x","type":"quantitative","axis":{"orient":"top","offset":-29,"values":[0,10,20,30,40],"labels":false,"title":null,"tickSize":-3,"domainWidth":1.5}},
   "y":{"field":"y","type":"quantitative","axis":{"orient":"right","offset":-43,"values":[0,0.02,0.04,0.06,0.08],"labels":false,"title":null,"tickSize":-3,"domainWidth":1.5}},"text":{"field":"s"}}},
 {"data":{"name":"peak"},"transform":[{"filter":"datum.id=='A3b'"}],"mark":{"type":"rule","color":"#000000","strokeWidth":1.5},
  "encoding":{"x":{"field":"x","type":"quantitative","axis":null},"y":{"field":"p","type":"quantitative","axis":null},"y2":{"datum":0}}}
],"resolve":{"axis":{"x":"independent","y":"independent"}}},
{"layer":[
 {"data":{"name":"curve"},"transform":[{"filter":"datum.reg=='pre'"}],"mark":{"type":"line","color":"#ff0000","strokeWidth":2.5},
  "encoding":{"x":{"field":"d","type":"quantitative","scale":{"domain":[200,8000],"range":[109,359],"nice":false,"zero":false},"axis":{"orient":"bottom","offset":-382,"values":[200,1000,2000,3000,4000,5000,6000,7000,8000],"labelExpr":"indexof([200,2000,4000,6000,8000],datum.value)>=0?format(datum.value,'~g'):''","labelFontSize":17,"labelPadding":21,"title":"Distance","titleFontSize":21,"titlePadding":1}},
   "y":{"field":"mt","type":"quantitative","scale":{"domain":[20,21.2],"range":[462,273],"nice":false,"zero":false},"axis":{"orient":"left","offset":-109,"values":[20,20.1667,20.3333,20.5,20.6667,20.8333,21,21.1667],"labelExpr":"indexof([20,20.5,21],datum.value)>=0?format(datum.value,'~g'):''","labelFontSize":19,"title":"Mean","titleFontSize":23,"titlePadding":16}}}},
 {"data":{"name":"curve"},"transform":[{"filter":"datum.reg=='pre'"}],"mark":{"type":"circle","color":"#ff0000","size":40,"opacity":1},
  "encoding":{"x":{"field":"d","type":"quantitative","axis":{"orient":"top","offset":-273,"values":[200,1000,2000,3000,4000,5000,6000,7000,8000],"labels":false,"title":null}},
   "y":{"field":"ms","type":"quantitative","axis":{"orient":"right","offset":-706,"values":[20,20.1667,20.3333,20.5,20.6667,20.8333,21,21.1667],"labels":false,"title":null}}}},
 {"data":{"name":"mk"},"transform":[{"filter":"datum.id=='B1'"}],"mark":{"type":"circle","color":"#555555","size":28,"opacity":1},
  "encoding":{"x":{"field":"x","type":"quantitative","axis":null},"y":{"field":"y","type":"quantitative","axis":null}}},
 {"data":{"name":"arrow"},"transform":[{"filter":"datum.id=='B1'"}],"mark":{"type":"rule","color":"#000000","strokeWidth":1.5},
  "encoding":{"x":{"field":"x","type":"quantitative","axis":null},"y":{"field":"y","type":"quantitative","axis":null},"x2":{"field":"x2"},"y2":{"field":"y2"}}},
 {"data":{"name":"arrow"},"transform":[{"filter":"datum.id=='B1' && datum.k=='v'"}],"mark":{"type":"point","shape":"M0,0L0.5,1L-0.5,1Z","filled":true,"color":"#000000","size":550,"angle":180,"opacity":1},
  "encoding":{"x":{"field":"x2","type":"quantitative","axis":null},"y":{"field":"y2","type":"quantitative","axis":null}}},
 {"data":{"name":"arrow"},"transform":[{"filter":"datum.id=='B1' && datum.k=='d'"}],"mark":{"type":"point","shape":"M0,0L0.5,1L-0.5,1Z","filled":true,"color":"#000000","size":550,"angle":238.3,"opacity":1},
  "encoding":{"x":{"field":"x2","type":"quantitative","axis":null},"y":{"field":"y2","type":"quantitative","axis":null}}},
 {"data":{"name":"note"},"transform":[{"filter":"datum.id=='B1' && datum.k=='ann'"}],"mark":{"type":"text","fontSize":19,"fontWeight":"bold"},
  "encoding":{"x":{"field":"x","type":"quantitative","axis":null},"y":{"field":"y","type":"quantitative","axis":null},"text":{"field":"s"}}},
 {"data":{"name":"note"},"transform":[{"filter":"datum.id=='B1' && datum.k=='lab'"}],"mark":{"type":"text","fontSize":25,"fontWeight":"bold"},
  "encoding":{"x":{"field":"x","type":"quantitative","axis":null},"y":{"field":"y","type":"quantitative","axis":null},"text":{"field":"s"}}}
],"resolve":{"axis":{"x":"independent","y":"independent"}}},
{"layer":[
 {"data":{"name":"curve"},"transform":[{"filter":"datum.reg=='post'"}],"mark":{"type":"line","color":"#0000ff","strokeWidth":2.5},
  "encoding":{"x":{"field":"d","type":"quantitative","scale":{"domain":[200,8000],"range":[447,703],"nice":false,"zero":false},"axis":{"orient":"bottom","offset":-382,"values":[200,1000,2000,3000,4000,5000,6000,7000,8000],"labelExpr":"indexof([200,2000,4000,6000,8000],datum.value)>=0?format(datum.value,'~g'):''","labelFontSize":17,"labelPadding":21,"title":"Distance","titleFontSize":21,"titlePadding":1}},
   "y":{"field":"mt","type":"quantitative","scale":{"domain":[25,40.2],"range":[462,272],"nice":false,"zero":false},"axis":{"orient":"left","offset":-447,"values":[25,27.5,30,32.5,35,37.5,40],"labelExpr":"indexof([25,30,35,40],datum.value)>=0?format(datum.value,'~g'):''","labelFontSize":19,"title":"Mean","titleFontSize":23,"titlePadding":20}}}},
 {"data":{"name":"curve"},"transform":[{"filter":"datum.reg=='post'"}],"mark":{"type":"circle","color":"#0000ff","size":40,"opacity":1},
  "encoding":{"x":{"field":"d","type":"quantitative","axis":{"orient":"top","offset":-272,"values":[200,1000,2000,3000,4000,5000,6000,7000,8000],"labels":false,"title":null}},
   "y":{"field":"ms","type":"quantitative","axis":{"orient":"right","offset":-362,"values":[25,27.5,30,32.5,35,37.5,40],"labels":false,"title":null}}}},
 {"data":{"name":"mk"},"transform":[{"filter":"datum.id=='B2'"}],"mark":{"type":"circle","color":"#555555","size":28,"opacity":1},
  "encoding":{"x":{"field":"x","type":"quantitative","axis":null},"y":{"field":"y","type":"quantitative","axis":null}}},
 {"data":{"name":"arrow"},"transform":[{"filter":"datum.id=='B2'"}],"mark":{"type":"rule","color":"#000000","strokeWidth":1.5},
  "encoding":{"x":{"field":"x","type":"quantitative","axis":null},"y":{"field":"y","type":"quantitative","axis":null},"x2":{"field":"x2"},"y2":{"field":"y2"}}},
 {"data":{"name":"arrow"},"transform":[{"filter":"datum.id=='B2' && datum.k=='v'"}],"mark":{"type":"point","shape":"M0,0L0.5,1L-0.5,1Z","filled":true,"color":"#000000","size":550,"angle":180,"opacity":1},
  "encoding":{"x":{"field":"x2","type":"quantitative","axis":null},"y":{"field":"y2","type":"quantitative","axis":null}}},
 {"data":{"name":"arrow"},"transform":[{"filter":"datum.id=='B2' && datum.k=='d'"}],"mark":{"type":"point","shape":"M0,0L0.5,1L-0.5,1Z","filled":true,"color":"#000000","size":550,"angle":242.6,"opacity":1},
  "encoding":{"x":{"field":"x2","type":"quantitative","axis":null},"y":{"field":"y2","type":"quantitative","axis":null}}},
 {"data":{"name":"note"},"transform":[{"filter":"datum.id=='B2' && datum.k=='ann'"}],"mark":{"type":"text","fontSize":19,"fontWeight":"bold"},
  "encoding":{"x":{"field":"x","type":"quantitative","axis":null},"y":{"field":"y","type":"quantitative","axis":null},"text":{"field":"s"}}}
],"resolve":{"axis":{"x":"independent","y":"independent"}}},
{"layer":[
 {"data":{"name":"curve"},"transform":[{"filter":"datum.reg=='mixed'"}],"mark":{"type":"line","color":"#b020ee","strokeWidth":2.5},
  "encoding":{"x":{"field":"d","type":"quantitative","scale":{"domain":[200,8000],"range":[787,1041],"nice":false,"zero":false},"axis":{"orient":"bottom","offset":-381,"values":[200,1000,2000,3000,4000,5000,6000,7000,8000],"labelExpr":"indexof([200,2000,4000,6000,8000],datum.value)>=0?format(datum.value,'~g'):''","labelFontSize":17,"labelPadding":20,"title":"Distance","titleFontSize":21,"titlePadding":1}},
   "y":{"field":"mt","type":"quantitative","scale":{"domain":[26,29.06],"range":[463,273],"nice":false,"zero":false},"axis":{"orient":"left","offset":-787,"values":[26,26.5,27,27.5,28,28.5,29],"labelExpr":"indexof([26,27,28,29],datum.value)>=0?format(datum.value,'~g'):''","labelFontSize":19,"title":"Mean","titleFontSize":23,"titlePadding":20}}}},
 {"data":{"name":"curve"},"transform":[{"filter":"datum.reg=='mixed'"}],"mark":{"type":"circle","color":"#b020ee","size":40,"opacity":1},
  "encoding":{"x":{"field":"d","type":"quantitative","axis":{"orient":"top","offset":-273,"values":[200,1000,2000,3000,4000,5000,6000,7000,8000],"labels":false,"title":null}},
   "y":{"field":"ms","type":"quantitative","axis":{"orient":"right","offset":-24,"values":[26,26.5,27,27.5,28,28.5,29],"labels":false,"title":null}}}},
 {"data":{"name":"mk"},"transform":[{"filter":"datum.id=='B3'"}],"mark":{"type":"circle","color":"#555555","size":28,"opacity":1},
  "encoding":{"x":{"field":"x","type":"quantitative","axis":null},"y":{"field":"y","type":"quantitative","axis":null}}},
 {"data":{"name":"arrow"},"transform":[{"filter":"datum.id=='B3'"}],"mark":{"type":"rule","color":"#000000","strokeWidth":1.5},
  "encoding":{"x":{"field":"x","type":"quantitative","axis":null},"y":{"field":"y","type":"quantitative","axis":null},"x2":{"field":"x2"},"y2":{"field":"y2"}}},
 {"data":{"name":"arrow"},"transform":[{"filter":"datum.id=='B3' && datum.k=='v'"}],"mark":{"type":"point","shape":"M0,0L0.5,1L-0.5,1Z","filled":true,"color":"#000000","size":550,"angle":180,"opacity":1},
  "encoding":{"x":{"field":"x2","type":"quantitative","axis":null},"y":{"field":"y2","type":"quantitative","axis":null}}},
 {"data":{"name":"arrow"},"transform":[{"filter":"datum.id=='B3' && datum.k=='d'"}],"mark":{"type":"point","shape":"M0,0L0.5,1L-0.5,1Z","filled":true,"color":"#000000","size":550,"angle":247.3,"opacity":1},
  "encoding":{"x":{"field":"x2","type":"quantitative","axis":null},"y":{"field":"y2","type":"quantitative","axis":null}}},
 {"data":{"name":"note"},"transform":[{"filter":"datum.id=='B3' && datum.k=='ann'"}],"mark":{"type":"text","fontSize":19,"fontWeight":"bold"},
  "encoding":{"x":{"field":"x","type":"quantitative","axis":null},"y":{"field":"y","type":"quantitative","axis":null},"text":{"field":"s"}}}
],"resolve":{"axis":{"x":"independent","y":"independent"}}},
{"layer":[
 {"data":{"name":"curve"},"transform":[{"filter":"datum.reg=='pre'"}],"mark":{"type":"line","color":"#ff0000","strokeWidth":2.5},
  "encoding":{"x":{"field":"d","type":"quantitative","scale":{"domain":[200,8000],"range":[109,359],"nice":false,"zero":false},"axis":{"orient":"bottom","offset":-127,"values":[200,1000,2000,3000,4000,5000,6000,7000,8000],"labelExpr":"indexof([200,2000,4000,6000,8000],datum.value)>=0?format(datum.value,'~g'):''","labelFontSize":18,"labelPadding":15,"title":"Distance","titleFontSize":21,"titlePadding":1}},
   "y":{"field":"nt","type":"quantitative","scale":{"domain":[0.06,0.0724],"range":[717,527],"nice":false,"zero":false},"axis":{"orient":"left","offset":-109,"values":[0.06,0.062,0.064,0.066,0.068,0.07,0.072],"labelExpr":"indexof([0.06,0.064,0.068,0.072],datum.value)>=0?format(datum.value,'~g'):''","labelFontSize":17.5,"title":"Noise","titleFontSize":23,"titlePadding":10}}}},
 {"data":{"name":"curve"},"transform":[{"filter":"datum.reg=='pre'"}],"mark":{"type":"circle","color":"#ff0000","size":40,"opacity":1},
  "encoding":{"x":{"field":"d","type":"quantitative","axis":{"orient":"top","offset":-527,"values":[200,1000,2000,3000,4000,5000,6000,7000,8000],"labels":false,"title":null}},
   "y":{"field":"ns","type":"quantitative","axis":{"orient":"right","offset":-706,"values":[0.06,0.062,0.064,0.066,0.068,0.07,0.072],"labels":false,"title":null}}}},
 {"data":{"name":"mk"},"transform":[{"filter":"datum.id=='C1'"}],"mark":{"type":"circle","color":"#555555","size":28,"opacity":1},
  "encoding":{"x":{"field":"x","type":"quantitative","axis":null},"y":{"field":"y","type":"quantitative","axis":null}}},
 {"data":{"name":"arrow"},"transform":[{"filter":"datum.id=='C1'"}],"mark":{"type":"rule","color":"#000000","strokeWidth":1.5},
  "encoding":{"x":{"field":"x","type":"quantitative","axis":null},"y":{"field":"y","type":"quantitative","axis":null},"x2":{"field":"x2"},"y2":{"field":"y2"}}},
 {"data":{"name":"arrow"},"transform":[{"filter":"datum.id=='C1' && datum.k=='v'"}],"mark":{"type":"point","shape":"M0,0L0.5,1L-0.5,1Z","filled":true,"color":"#000000","size":550,"angle":0,"opacity":1},
  "encoding":{"x":{"field":"x2","type":"quantitative","axis":null},"y":{"field":"y2","type":"quantitative","axis":null}}},
 {"data":{"name":"arrow"},"transform":[{"filter":"datum.id=='C1' && datum.k=='d'"}],"mark":{"type":"point","shape":"M0,0L0.5,1L-0.5,1Z","filled":true,"color":"#000000","size":550,"angle":281,"opacity":1},
  "encoding":{"x":{"field":"x2","type":"quantitative","axis":null},"y":{"field":"y2","type":"quantitative","axis":null}}},
 {"data":{"name":"note"},"transform":[{"filter":"datum.id=='C1' && datum.k=='ann'"}],"mark":{"type":"text","fontSize":19,"fontWeight":"bold"},
  "encoding":{"x":{"field":"x","type":"quantitative","axis":null},"y":{"field":"y","type":"quantitative","axis":null},"text":{"field":"s"}}},
 {"data":{"name":"note"},"transform":[{"filter":"datum.id=='C1' && datum.k=='lab'"}],"mark":{"type":"text","fontSize":25,"fontWeight":"bold"},
  "encoding":{"x":{"field":"x","type":"quantitative","axis":null},"y":{"field":"y","type":"quantitative","axis":null},"text":{"field":"s"}}},
 {"data":{"name":"note"},"transform":[{"filter":"datum.id=='C1' && datum.k=='bot'"}],"mark":{"type":"text","font":"DejaVu Sans","fontSize":26,"fontWeight":"normal","align":"left","baseline":"alphabetic","lineBreak":"\n","lineHeight":28},
  "encoding":{"x":{"field":"x","type":"quantitative","axis":null},"y":{"field":"y","type":"quantitative","axis":null},"text":{"field":"s"}}}
],"resolve":{"axis":{"x":"independent","y":"independent"}}},
{"layer":[
 {"data":{"name":"curve"},"transform":[{"filter":"datum.reg=='post'"}],"mark":{"type":"line","color":"#0000ff","strokeWidth":2.5},
  "encoding":{"x":{"field":"d","type":"quantitative","scale":{"domain":[200,8000],"range":[447,703],"nice":false,"zero":false},"axis":{"orient":"bottom","offset":-127,"values":[200,1000,2000,3000,4000,5000,6000,7000,8000],"labelExpr":"indexof([200,2000,4000,6000,8000],datum.value)>=0?format(datum.value,'~g'):''","labelFontSize":18,"labelPadding":15,"title":"Distance","titleFontSize":21,"titlePadding":1}},
   "y":{"field":"nt","type":"quantitative","scale":{"domain":[0.04,0.0605],"range":[717,526],"nice":false,"zero":false},"axis":{"orient":"left","offset":-447,"values":[0.04,0.042,0.044,0.046,0.048,0.05,0.052,0.054,0.056,0.058,0.06],"labelExpr":"indexof([0.04,0.05,0.06],datum.value)>=0?format(datum.value,'~g'):''","labelFontSize":18,"title":"Noise","titleFontSize":23,"titlePadding":6}}}},
 {"data":{"name":"curve"},"transform":[{"filter":"datum.reg=='post'"}],"mark":{"type":"circle","color":"#0000ff","size":40,"opacity":1},
  "encoding":{"x":{"field":"d","type":"quantitative","axis":{"orient":"top","offset":-526,"values":[200,1000,2000,3000,4000,5000,6000,7000,8000],"labels":false,"title":null}},
   "y":{"field":"ns","type":"quantitative","axis":{"orient":"right","offset":-362,"values":[0.04,0.042,0.044,0.046,0.048,0.05,0.052,0.054,0.056,0.058,0.06],"labels":false,"title":null}}}},
 {"data":{"name":"mk"},"transform":[{"filter":"datum.id=='C2'"}],"mark":{"type":"circle","color":"#555555","size":28,"opacity":1},
  "encoding":{"x":{"field":"x","type":"quantitative","axis":null},"y":{"field":"y","type":"quantitative","axis":null}}},
 {"data":{"name":"arrow"},"transform":[{"filter":"datum.id=='C2'"}],"mark":{"type":"rule","color":"#000000","strokeWidth":1.5},
  "encoding":{"x":{"field":"x","type":"quantitative","axis":null},"y":{"field":"y","type":"quantitative","axis":null},"x2":{"field":"x2"},"y2":{"field":"y2"}}},
 {"data":{"name":"arrow"},"transform":[{"filter":"datum.id=='C2' && datum.k=='v'"}],"mark":{"type":"point","shape":"M0,0L0.5,1L-0.5,1Z","filled":true,"color":"#000000","size":550,"angle":0,"opacity":1},
  "encoding":{"x":{"field":"x2","type":"quantitative","axis":null},"y":{"field":"y2","type":"quantitative","axis":null}}},
 {"data":{"name":"arrow"},"transform":[{"filter":"datum.id=='C2' && datum.k=='d'"}],"mark":{"type":"point","shape":"M0,0L0.5,1L-0.5,1Z","filled":true,"color":"#000000","size":550,"angle":293.9,"opacity":1},
  "encoding":{"x":{"field":"x2","type":"quantitative","axis":null},"y":{"field":"y2","type":"quantitative","axis":null}}},
 {"data":{"name":"note"},"transform":[{"filter":"datum.id=='C2' && datum.k=='ann'"}],"mark":{"type":"text","fontSize":19,"fontWeight":"bold"},
  "encoding":{"x":{"field":"x","type":"quantitative","axis":null},"y":{"field":"y","type":"quantitative","axis":null},"text":{"field":"s"}}},
 {"data":{"name":"note"},"transform":[{"filter":"datum.id=='C2' && datum.k=='bot'"}],"mark":{"type":"text","font":"DejaVu Sans","fontSize":26,"fontWeight":"normal","align":"left","baseline":"alphabetic","lineBreak":"\n","lineHeight":28},
  "encoding":{"x":{"field":"x","type":"quantitative","axis":null},"y":{"field":"y","type":"quantitative","axis":null},"text":{"field":"s"}}}
],"resolve":{"axis":{"x":"independent","y":"independent"}}},
{"layer":[
 {"data":{"name":"curve"},"transform":[{"filter":"datum.reg=='mixed'"}],"mark":{"type":"line","color":"#b020ee","strokeWidth":2.5},
  "encoding":{"x":{"field":"d","type":"quantitative","scale":{"domain":[200,8000],"range":[787,1040],"nice":false,"zero":false},"axis":{"orient":"bottom","offset":-127,"values":[200,1000,2000,3000,4000,5000,6000,7000,8000],"labelExpr":"indexof([200,2000,4000,6000,8000],datum.value)>=0?format(datum.value,'~g'):''","labelFontSize":18,"labelPadding":16,"title":"Distance","titleFontSize":21,"titlePadding":1}},
   "y":{"field":"nt","type":"quantitative","scale":{"domain":[0.01,0.041],"range":[717,527],"nice":false,"zero":false},"axis":{"orient":"left","offset":-787,"values":[0.01,0.01333,0.01667,0.02,0.02333,0.02667,0.03,0.03333,0.03667,0.04],"labelExpr":"indexof([0.01,0.02,0.03,0.04],datum.value)>=0?format(datum.value,'~g'):''","labelFontSize":18,"title":"Noise","titleFontSize":23,"titlePadding":7}}}},
 {"data":{"name":"curve"},"transform":[{"filter":"datum.reg=='mixed'"}],"mark":{"type":"circle","color":"#b020ee","size":40,"opacity":1},
  "encoding":{"x":{"field":"d","type":"quantitative","axis":{"orient":"top","offset":-527,"values":[200,1000,2000,3000,4000,5000,6000,7000,8000],"labels":false,"title":null}},
   "y":{"field":"ns","type":"quantitative","axis":{"orient":"right","offset":-25,"values":[0.01,0.01333,0.01667,0.02,0.02333,0.02667,0.03,0.03333,0.03667,0.04],"labels":false,"title":null}}}},
 {"data":{"name":"mk"},"transform":[{"filter":"datum.id=='C3'"}],"mark":{"type":"circle","color":"#555555","size":28,"opacity":1},
  "encoding":{"x":{"field":"x","type":"quantitative","axis":null},"y":{"field":"y","type":"quantitative","axis":null}}},
 {"data":{"name":"arrow"},"transform":[{"filter":"datum.id=='C3' && datum.k=='v'"}],"mark":{"type":"rule","color":"#000000","strokeWidth":1.5},
  "encoding":{"x":{"field":"x","type":"quantitative","axis":null},"y":{"field":"y","type":"quantitative","axis":null},"x2":{"field":"x2"},"y2":{"field":"y2"}}},
 {"data":{"name":"arrow"},"transform":[{"filter":"datum.id=='C3' && datum.k=='d'"}],"mark":{"type":"rule","color":"#8b2252","strokeWidth":1.5},
  "encoding":{"x":{"field":"x","type":"quantitative","axis":null},"y":{"field":"y","type":"quantitative","axis":null},"x2":{"field":"x2"},"y2":{"field":"y2"}}},
 {"data":{"name":"arrow"},"transform":[{"filter":"datum.id=='C3' && datum.k=='v'"}],"mark":{"type":"point","shape":"M0,0L0.5,1L-0.5,1Z","filled":true,"color":"#000000","size":550,"angle":0,"opacity":1},
  "encoding":{"x":{"field":"x2","type":"quantitative","axis":null},"y":{"field":"y2","type":"quantitative","axis":null}}},
 {"data":{"name":"arrow"},"transform":[{"filter":"datum.id=='C3' && datum.k=='d'"}],"mark":{"type":"point","shape":"M0,0L0.5,1L-0.5,1Z","filled":true,"color":"#000000","size":550,"angle":291.9,"opacity":1},
  "encoding":{"x":{"field":"x2","type":"quantitative","axis":null},"y":{"field":"y2","type":"quantitative","axis":null}}},
 {"data":{"name":"note"},"transform":[{"filter":"datum.id=='C3' && datum.k=='ann'"}],"mark":{"type":"text","fontSize":19,"fontWeight":"bold"},
  "encoding":{"x":{"field":"x","type":"quantitative","axis":null},"y":{"field":"y","type":"quantitative","axis":null},"text":{"field":"s"}}},
 {"data":{"name":"note"},"transform":[{"filter":"datum.id=='C3' && datum.k=='bot'"}],"mark":{"type":"text","font":"DejaVu Sans","fontSize":26,"fontWeight":"normal","align":"left","baseline":"alphabetic","lineBreak":"\n","lineHeight":28},
  "encoding":{"x":{"field":"x","type":"quantitative","axis":null},"y":{"field":"y","type":"quantitative","axis":null},"text":{"field":"s"}}}
],"resolve":{"axis":{"x":"independent","y":"independent"}}}
],
"resolve":{"scale":{"x":"independent","y":"independent"},"axis":{"x":"independent","y":"independent"}},
"config":{
 "view":{"stroke":null},
 "axis":{"grid":false,"labelFont":"Liberation Sans","labelFontWeight":"bold","labelColor":"#000000","titleFont":"Liberation Sans","titleFontWeight":"bold","titleColor":"#000000","domainColor":"#000000","domainWidth":2,"tickColor":"#000000","tickWidth":1.5,"tickSize":-5,"labelPadding":8,"labelFlush":false,"labelOverlap":false,"labelBound":false},
 "text":{"font":"Liberation Sans","color":"#000000"}
}
}
